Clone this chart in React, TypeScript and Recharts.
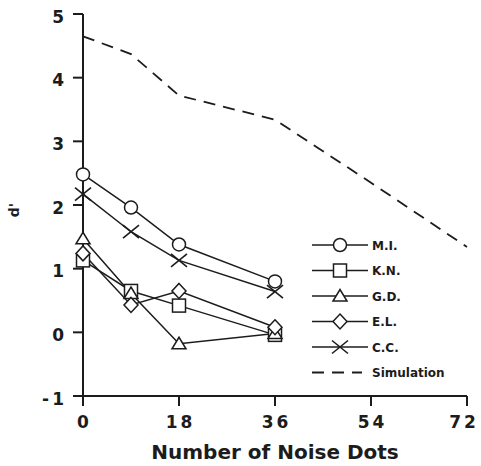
import React from 'react';
import { LineChart, Line, XAxis, YAxis, Legend } from 'recharts';

// ---- data ----
const noiseDots = [0, 9, 18, 36];
const simNoiseDots = [0, 9, 18, 36, 54, 72];
const miValues = [2.48, 1.96, 1.38, 0.8];
const knValues = [1.13, 0.65, 0.42, -0.04];
const gdValues = [1.47, 0.61, -0.18, -0.02];
const elValues = [1.24, 0.43, 0.65, 0.08];
const ccValues = [2.17, 1.58, 1.13, 0.64];
const simValues = [4.65, 4.37, 3.72, 3.34, 2.35, 1.34];
const xTicks = [0, 18, 36, 54, 72];
const yTicks = [-1, 0, 1, 2, 3, 4, 5];
const seriesNames = ['M.I.', 'K.N.', 'G.D.', 'E.L.', 'C.C.', 'Simulation'];
const xTitle = 'Number of Noise Dots';
const yTitle = "d'";

const INK = '#1c1c1c';
const FONT = '"DejaVu Sans", Verdana, sans-serif';

const toRows = (xs: number[], ys: number[]) => xs.map((x, i) => ({ x, y: ys[i] }));

type Shape = 'circle' | 'square' | 'triangle' | 'diamond' | 'cross' | 'none';

const series: { name: string; shape: Shape; data: { x: number; y: number }[]; dashed?: boolean }[] = [
  { name: seriesNames[0], shape: 'circle', data: toRows(noiseDots, miValues) },
  { name: seriesNames[1], shape: 'square', data: toRows(noiseDots, knValues) },
  { name: seriesNames[2], shape: 'triangle', data: toRows(noiseDots, gdValues) },
  { name: seriesNames[3], shape: 'diamond', data: toRows(noiseDots, elValues) },
  { name: seriesNames[4], shape: 'cross', data: toRows(noiseDots, ccValues) },
  { name: seriesNames[5], shape: 'none', data: toRows(simNoiseDots, simValues), dashed: true },
];

function Marker({ shape, cx, cy }: { shape: Shape; cx: number; cy: number }) {
  const common = { fill: '#fff', stroke: INK, strokeWidth: 1.5 };
  if (cx == null || cy == null || isNaN(cx) || isNaN(cy)) return <g />;
  switch (shape) {
    case 'circle':
      return <circle cx={cx} cy={cy} r={6.5} {...common} />;
    case 'square':
      return <rect x={cx - 6.5} y={cy - 6.5} width={13} height={13} {...common} />;
    case 'triangle':
      return <polygon points={`${cx - 7},${cy + 5} ${cx + 7},${cy + 5} ${cx},${cy - 6.5}`} {...common} />;
    case 'diamond':
      return <polygon points={`${cx},${cy - 7.5} ${cx + 7},${cy} ${cx},${cy + 7.5} ${cx - 7},${cy}`} {...common} />;
    case 'cross':
      return (
        <g stroke={INK} strokeWidth={1.6}>
          <line x1={cx - 8} y1={cy - 6.5} x2={cx + 8} y2={cy + 6.5} />
          <line x1={cx - 8} y1={cy + 6.5} x2={cx + 8} y2={cy - 6.5} />
        </g>
      );
    default:
      return <g />;
  }
}

const XTick = (props: any) => {
  const isLast = props.payload.value === xTicks[xTicks.length - 1];
  return (
    <text
      x={props.x + (isLast ? -3 : 1.5)}
      y={props.y + 22}
      textAnchor="middle"
      fill={INK}
      fontFamily={FONT}
      fontWeight="bold"
      fontSize={17}
      letterSpacing={3}
    >
      {props.payload.value}
    </text>
  );
};

const YTick = (props: any) => (
  <text
    x={props.x - 6}
    y={props.y + 8.7}
    textAnchor="end"
    fill={INK}
    fontFamily={FONT}
    fontWeight="bold"
    fontSize={17}
    letterSpacing={3}
  >
    {props.payload.value}
  </text>
);

const XTitle = (props: any) => {
  const vb = props.viewBox || {};
  return (
    <text
      x={vb.x + vb.width / 2}
      y={vb.y + vb.height - 7}
      textAnchor="middle"
      fill={INK}
      fontFamily={FONT}
      fontWeight="bold"
      fontSize={20}
    >
      {xTitle}
    </text>
  );
};

const YTitle = (props: any) => {
  const vb = props.viewBox || {};
  const x = vb.x + 18.5;
  const y = vb.y + vb.height / 2 + 5;
  return (
    <text
      x={x}
      y={y}
      transform={`rotate(-90, ${x}, ${y})`}
      textAnchor="middle"
      fill={INK}
      fontFamily={FONT}
      fontWeight="bold"
      fontSize={14}
    >
      {yTitle}
    </text>
  );
};

const LegendBox = () => {
  const rowGap = 25.5;
  return (
    <svg width={175} height={155}>
      {series.map((s, i) => {
        const y = 13 + i * rowGap;
        return (
          <g key={s.name}>
            {s.dashed ? (
              <line x1={7} y1={y} x2={57} y2={y} stroke={INK} strokeWidth={1.8} strokeDasharray="12 8" />
            ) : (
              <line x1={7} y1={y} x2={63} y2={y} stroke={INK} strokeWidth={1.5} />
            )}
            <Marker shape={s.shape} cx={35} cy={y} />
            <text x={67} y={y + 4.5} fill={INK} fontFamily={FONT} fontWeight="bold" fontSize={12}>
              {s.name}
            </text>
          </g>
        );
      })}
    </svg>
  );
};

export default function App() {
  return (
    <div style={{ position: 'absolute', left: 0, top: 0, background: '#fff' }}>
      <LineChart width={481} height={466} margin={{ top: 14, right: 14, bottom: 0, left: 0 }}>
        <XAxis
          dataKey="x"
          type="number"
          domain={[0, 72]}
          ticks={xTicks}
          height={70}
          allowDuplicatedCategory={false}
          axisLine={{ stroke: INK, strokeWidth: 2 }}
          tickLine={{ stroke: INK, strokeWidth: 2 }}
          tickSize={10}
          tickMargin={0}
          tick={<XTick />}
          interval={0}
          label={<XTitle />}
        />
        <YAxis
          type="number"
          domain={[-1, 5]}
          ticks={yTicks}
          width={83}
          axisLine={{ stroke: INK, strokeWidth: 2 }}
          tickLine={{ stroke: INK, strokeWidth: 2 }}
          tickSize={10}
          tickMargin={0}
          tick={<YTick />}
          interval={0}
          label={<YTitle />}
        />
        <Legend
          layout="vertical"
          align="center"
          verticalAlign="middle"
          content={<LegendBox />}
          wrapperStyle={{ position: 'absolute', left: 305, top: 232, width: 175, height: 155 }}
        />
        {series.map((s) => (
          <Line
            key={s.name}
            data={s.data}
            dataKey="y"
            name={s.name}
            type="linear"
            stroke={INK}
            strokeWidth={s.dashed ? 1.8 : 1.5}
            strokeDasharray={s.dashed ? '12 8' : undefined}
            dot={s.dashed ? false : (p: any) => <Marker key={`${s.name}-${p.index}`} shape={s.shape} cx={p.cx} cy={p.cy} />}
            activeDot={false}
            isAnimationActive={false}
          />
        ))}
      </LineChart>
    </div>
  );
}
